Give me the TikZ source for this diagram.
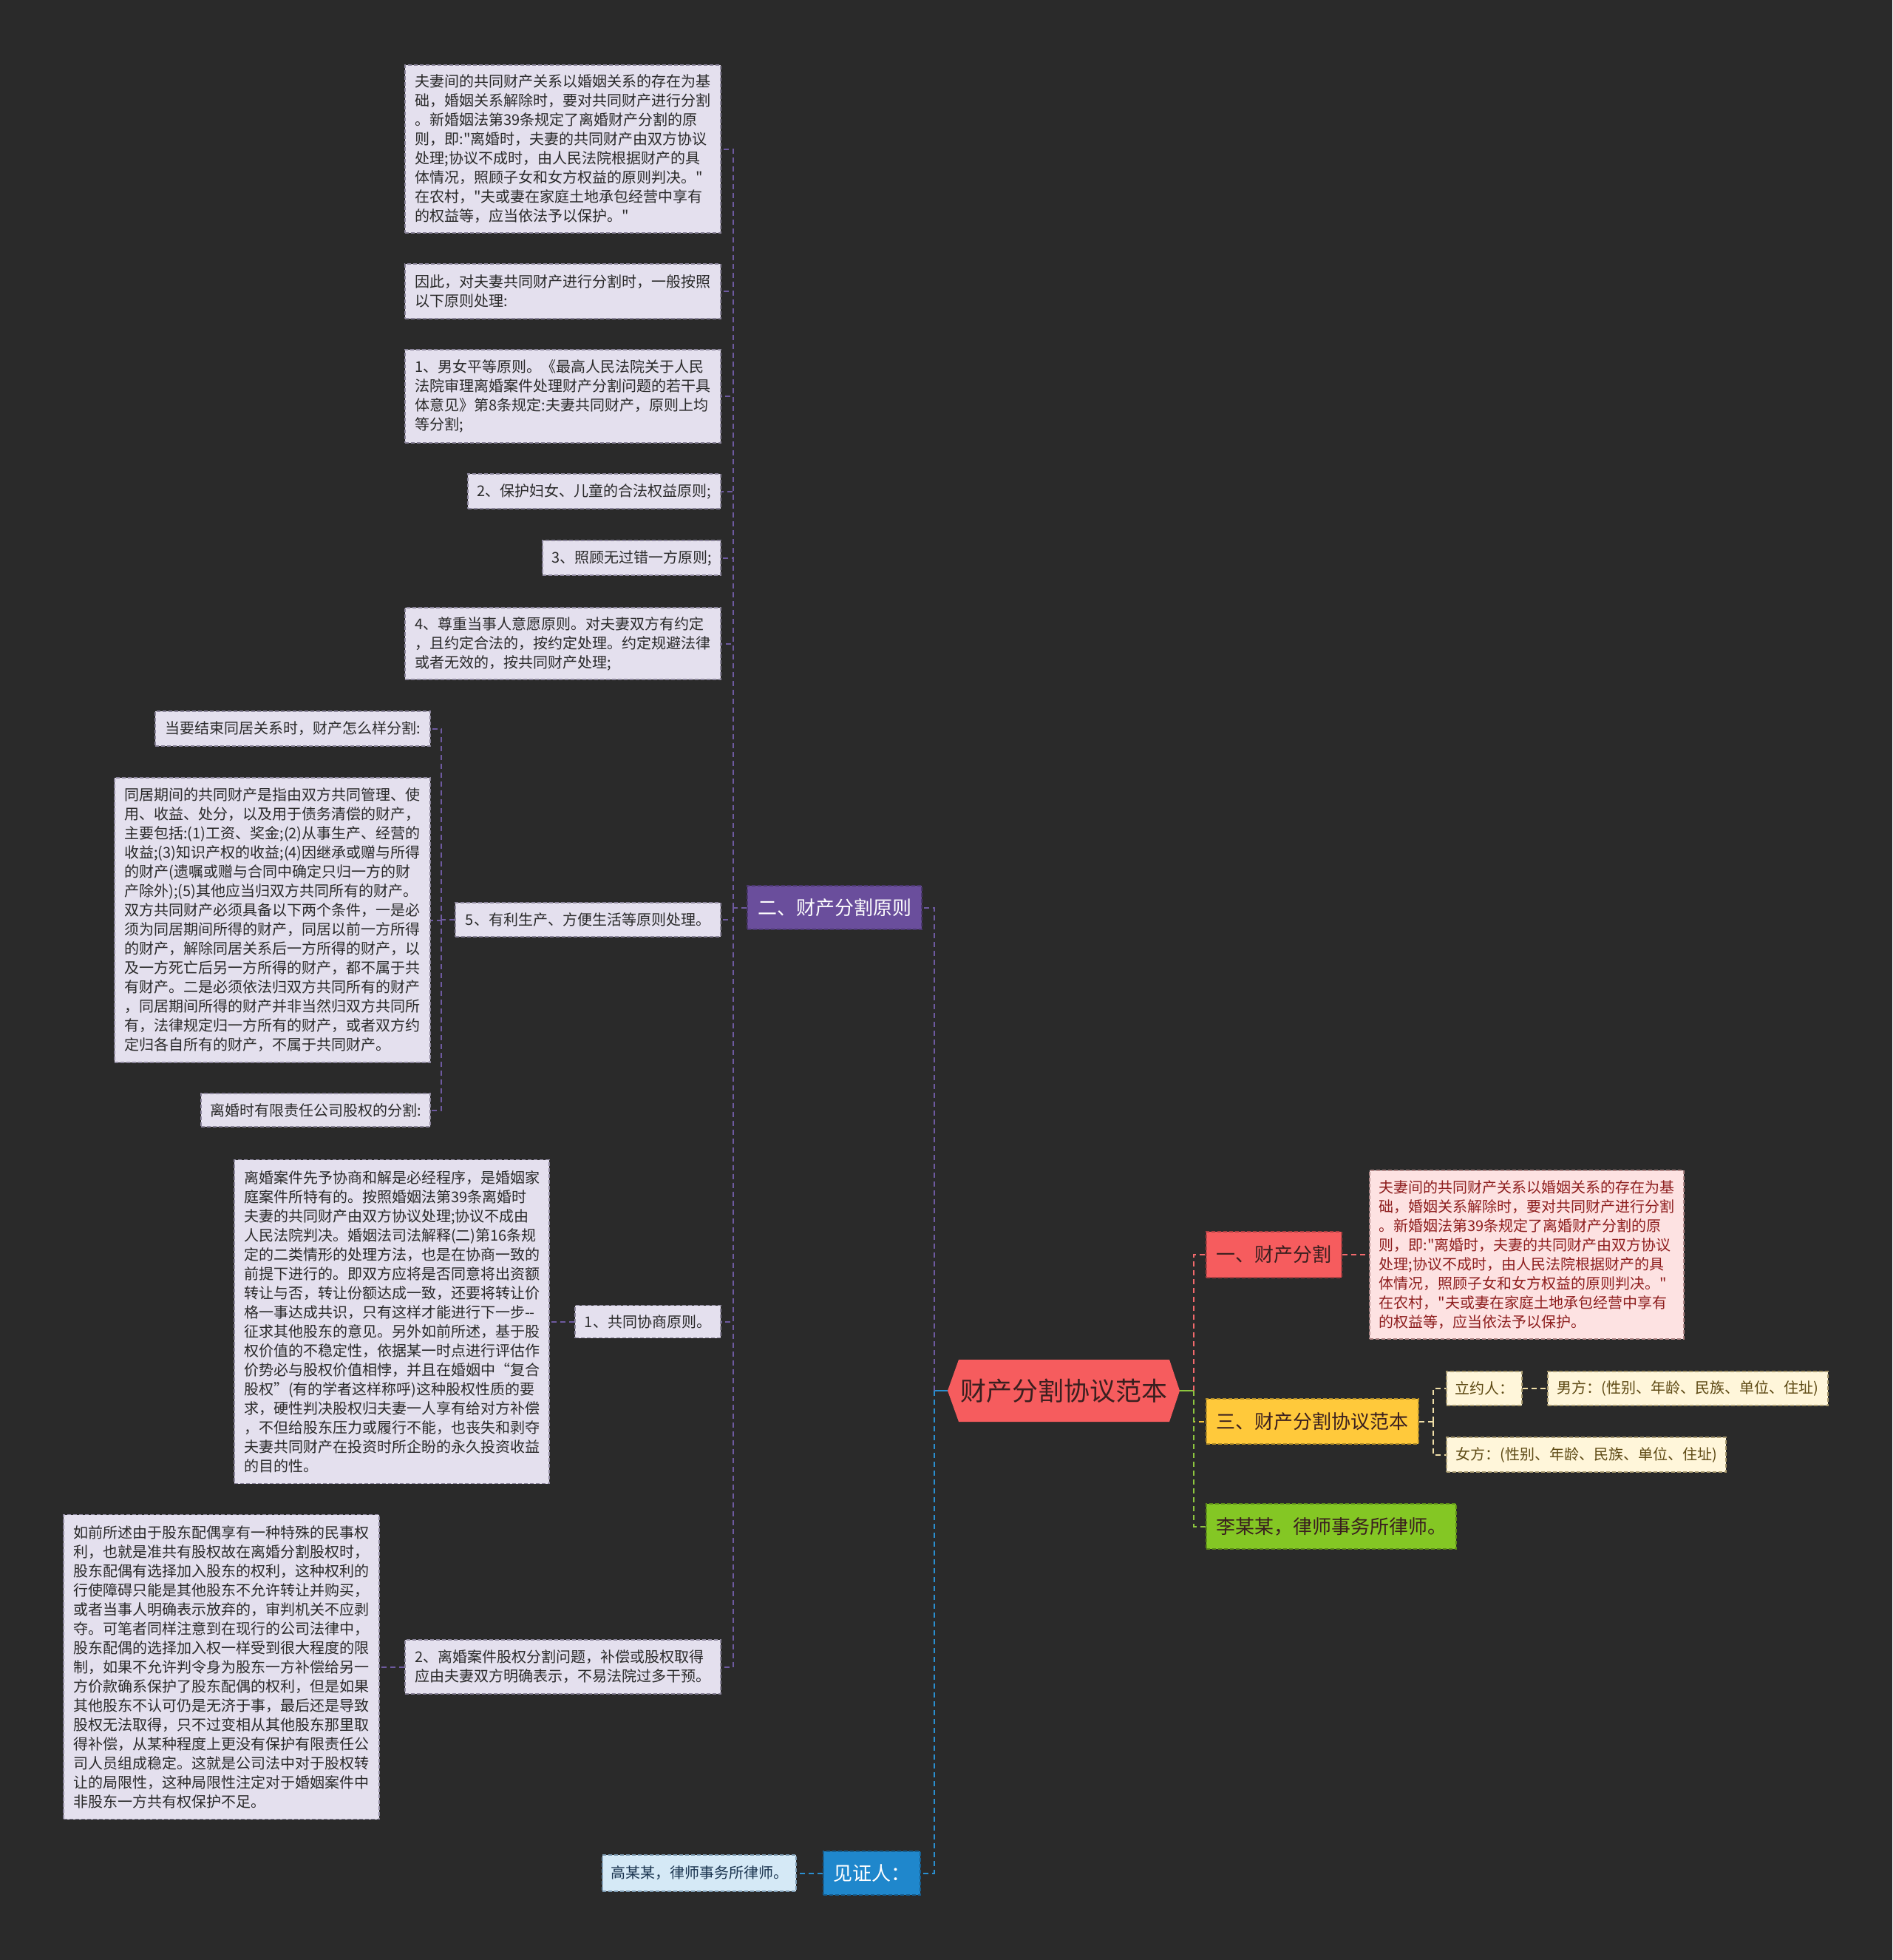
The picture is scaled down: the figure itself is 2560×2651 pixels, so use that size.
\documentclass[tikz,border=0pt]{standalone}
\usepackage{fontspec}
\setmainfont{Noto Sans CJK SC}[Ligatures=TeXOff]
\usetikzlibrary{calc}
\definecolor{bg}{HTML}{2A2A2A}
\definecolor{leaffill}{HTML}{E4E0EE}
\definecolor{leafborder}{HTML}{8C869C}
\definecolor{leaftext}{HTML}{2A2A2A}
\definecolor{pinkfill}{HTML}{FDE2E2}
\definecolor{pinktext}{HTML}{8E1E1E}
\definecolor{pinkborder}{HTML}{B08888}
\definecolor{creamfill}{HTML}{FFF6DA}
\definecolor{creamtext}{HTML}{5E4A14}
\definecolor{creamborder}{HTML}{A89A70}
\definecolor{lbluefill}{HTML}{D5E9F6}
\definecolor{lbluetext}{HTML}{1B3550}
\definecolor{lblueborder}{HTML}{7E9CB4}
\definecolor{purplen}{HTML}{6A4E9C}
\definecolor{bluen}{HTML}{1F87CC}
\definecolor{redn}{HTML}{F65C5E}
\definecolor{yellown}{HTML}{FFC93B}
\definecolor{greenn}{HTML}{84C724}
\definecolor{darktext}{HTML}{3A1F1F}
\definecolor{purplec}{HTML}{6E5AA0}
\definecolor{bluec}{HTML}{2A8FD0}
\definecolor{redc}{HTML}{F2696C}
\definecolor{yellowc}{HTML}{F5C53A}
\definecolor{greenc}{HTML}{8DC63F}
\definecolor{creamc}{HTML}{F0DFA8}
\tikzset{
  leaf/.style={rectangle, draw=leafborder, dash pattern=on 5pt off 3pt, line width=1.2pt,
    fill=leaffill, text=leaftext, font=\fontsize{20}{26}\selectfont, align=left, inner sep=0pt},
  pinkleaf/.style={leaf, draw=pinkborder, fill=pinkfill, text=pinktext},
  creamleaf/.style={leaf, draw=creamborder, fill=creamfill, text=creamtext},
  blueleaf/.style={leaf, draw=lblueborder, fill=lbluefill, text=lbluetext},
  mainbox/.style={rectangle, dash pattern=on 5pt off 3pt, line width=1.2pt, inner sep=0pt,
    font=\fontsize{26}{32}\selectfont, minimum height=60pt},
  conn/.style={line width=2pt, dash pattern=on 7pt off 5pt},
  stub/.style={line width=2pt}
}
\begin{document}
\begin{tikzpicture}[x=1pt,y=-1pt]
\fill[bg] (0,0) rectangle (2560,2651);

% ---------- left subtree leaves ----------
\node[leaf, minimum width=427pt, minimum height=227pt] (A) at (761.5,201.5) {夫妻间的共同财产关系以婚姻关系的存在为基\\础，婚姻关系解除时，要对共同财产进行分割\\。新婚姻法第39条规定了离婚财产分割的原\\则，即:"离婚时，夫妻的共同财产由双方协议\\处理;协议不成时，由人民法院根据财产的具\\体情况，照顾子女和女方权益的原则判决。"\\在农村，"夫或妻在家庭土地承包经营中享有\\的权益等，应当依法予以保护。"};
\node[leaf, minimum width=427pt, minimum height=74pt] (B) at (761.5,394) {因此，对夫妻共同财产进行分割时，一般按照\\以下原则处理:};
\node[leaf, minimum width=427pt, minimum height=126pt] (C) at (761.5,536) {1、男女平等原则。《最高人民法院关于人民\\法院审理离婚案件处理财产分割问题的若干具\\体意见》第8条规定:夫妻共同财产，原则上均\\等分割;};
\node[leaf, minimum width=342pt, minimum height=47pt] (D) at (804,664.5) {2、保护妇女、儿童的合法权益原则;};
\node[leaf, minimum width=241pt, minimum height=47pt] (E) at (854.5,754.5) {3、照顾无过错一方原则;};
\node[leaf, minimum width=427pt, minimum height=97pt] (F) at (761.5,870.5) {4、尊重当事人意愿原则。对夫妻双方有约定\\，且约定合法的，按约定处理。约定规避法律\\或者无效的，按共同财产处理;};
\node[leaf, minimum width=359pt, minimum height=46pt] (G) at (795.5,1244) {5、有利生产、方便生活等原则处理。};
\node[leaf, minimum width=372pt, minimum height=47pt] (H) at (396,985.5) {当要结束同居关系时，财产怎么样分割:};
\node[leaf, minimum width=427pt, minimum height=385pt] (I) at (368.5,1244.5) {同居期间的共同财产是指由双方共同管理、使\\用、收益、处分，以及用于债务清偿的财产，\\主要包括:(1)工资、奖金;(2)从事生产、经营的\\收益;(3)知识产权的收益;(4)因继承或赠与所得\\的财产(遗嘱或赠与合同中确定只归一方的财\\产除外);(5)其他应当归双方共同所有的财产。\\双方共同财产必须具备以下两个条件，一是必\\须为同居期间所得的财产，同居以前一方所得\\的财产，解除同居关系后一方所得的财产，以\\及一方死亡后另一方所得的财产，都不属于共\\有财产。二是必须依法归双方共同所有的财产\\，同居期间所得的财产并非当然归双方共同所\\有，法律规定归一方所有的财产，或者双方约\\定归各自所有的财产，不属于共同财产。};
\node[leaf, minimum width=310pt, minimum height=45pt] (J) at (427,1501.5) {离婚时有限责任公司股权的分割:};
\node[leaf, minimum width=426pt, minimum height=438pt] (K) at (530,1787.5) {离婚案件先予协商和解是必经程序，是婚姻家\\庭案件所特有的。按照婚姻法第39条离婚时\\夫妻的共同财产由双方协议处理;协议不成由\\人民法院判决。婚姻法司法解释(二)第16条规\\定的二类情形的处理方法，也是在协商一致的\\前提下进行的。即双方应将是否同意将出资额\\转让与否，转让份额达成一致，还要将转让价\\格一事达成共识，只有这样才能进行下一步-{}-\\征求其他股东的意见。另外如前所述，基于股\\权价值的不稳定性，依据某一时点进行评估作\\价势必与股权价值相悖，并且在婚姻中“复合\\股权”(有的学者这样称呼)这种股权性质的要\\求，硬性判决股权归夫妻一人享有给对方补偿\\，不但给股东压力或履行不能，也丧失和剥夺\\夫妻共同财产在投资时所企盼的永久投资收益\\的目的性。};
\node[leaf, minimum width=197pt, minimum height=44pt] (L) at (876.5,1787.5) {1、共同协商原则。};
\node[leaf, minimum width=427pt, minimum height=412pt] (M) at (299.5,2254.5) {如前所述由于股东配偶享有一种特殊的民事权\\利，也就是准共有股权故在离婚分割股权时，\\股东配偶有选择加入股东的权利，这种权利的\\行使障碍只能是其他股东不允许转让并购买，\\或者当事人明确表示放弃的，审判机关不应剥\\夺。可笔者同样注意到在现行的公司法律中，\\股东配偶的选择加入权一样受到很大程度的限\\制，如果不允许判令身为股东一方补偿给另一\\方价款确系保护了股东配偶的权利，但是如果\\其他股东不认可仍是无济于事，最后还是导致\\股权无法取得，只不过变相从其他股东那里取\\得补偿，从某种程度上更没有保护有限责任公\\司人员组成稳定。这就是公司法中对于股权转\\让的局限性，这种局限性注定对于婚姻案件中\\非股东一方共有权保护不足。};
\node[leaf, minimum width=427pt, minimum height=73pt] (N) at (761.5,2254.5) {2、离婚案件股权分割问题，补偿或股权取得\\应由夫妻双方明确表示，不易法院过多干预。};

% ---------- main branches ----------
\node[mainbox, draw=purplen!70!black, fill=purplen, text=white, minimum width=236pt, minimum height=59pt] (er) at (1129,1227.5) {二、财产分割原则};
\node[mainbox, draw=bluen!70!black, fill=bluen, text=white, minimum width=131pt, minimum height=59pt] (wit) at (1179.5,2533.5) {见证人：};
\node[blueleaf, minimum width=262pt, minimum height=49pt] (w2) at (946,2533.5) {高某某，律师事务所律师。};

% root hexagon
\fill[redn] (1282,1881) -- (1297,1839) -- (1582,1839) -- (1596,1881) -- (1582,1923) -- (1297,1923) -- cycle;
\node[rectangle, inner sep=0pt, minimum width=314pt, minimum height=84pt, text=darktext, font=\fontsize{35}{40}\selectfont] (root) at (1439,1881) {财产分割协议范本};

\node[mainbox, draw=redn!70!black, fill=redn, text=darktext, minimum width=183pt, minimum height=62pt] (one) at (1723.5,1697) {一、财产分割};
\node[pinkleaf, minimum width=425pt, minimum height=228pt] (P) at (2065.5,1697) {夫妻间的共同财产关系以婚姻关系的存在为基\\础，婚姻关系解除时，要对共同财产进行分割\\。新婚姻法第39条规定了离婚财产分割的原\\则，即:"离婚时，夫妻的共同财产由双方协议\\处理;协议不成时，由人民法院根据财产的具\\体情况，照顾子女和女方权益的原则判决。"\\在农村，"夫或妻在家庭土地承包经营中享有\\的权益等，应当依法予以保护。};
\node[mainbox, draw=yellown!70!black, fill=yellown, text=darktext, minimum width=287pt, minimum height=61pt] (three) at (1775.5,1922.5) {三、财产分割协议范本};
\node[mainbox, draw=greenn!70!black, fill=greenn, text=darktext, minimum width=338pt, minimum height=61pt] (li) at (1801,2064.5) {李某某，律师事务所律师。};
\node[creamleaf, minimum width=102pt, minimum height=46pt] (lyr) at (2008,1878) {立约人：};
\node[creamleaf, minimum width=379pt, minimum height=46pt] (nan) at (2283.5,1878) {男方：(性别、年龄、民族、单位、住址)};
\node[creamleaf, minimum width=378pt, minimum height=47pt] (nv) at (2146,1967.5) {女方：(性别、年龄、民族、单位、住址)};

% ---------- connectors ----------
\draw[stub, bluec] (root.west) -- ++(-18,0) coordinate (rl);
\draw[conn, purplec] (rl) |- (er.east);
\draw[conn, bluec] (rl) |- (wit.east);
\draw[conn, bluec] (wit.west) -- (w2.east);

\draw[conn, purplec] (er.west) -- ++(-18,0) coordinate (pt);
\foreach \n in {A,B,C,D,E,F,G,L,N} \draw[conn, purplec] (pt) |- (\n.east);
\draw[conn, purplec] (G.west) -- ++(-18,0) coordinate (gt);
\foreach \n in {H,I,J} \draw[conn, purplec] (gt) |- (\n.east);
\draw[conn, purplec] (L.west) -- (K.east);
\draw[conn, purplec] (N.west) -- (M.east);

\draw[stub, greenc] (root.east) -- ++(19,0) coordinate (rr);
\draw[conn, redc] (rr) |- (one.west);
\draw[conn, yellowc] (rr) |- (three.west);
\draw[conn, greenc] (rr) |- (li.west);
\draw[conn, redc] (one.east) -- (P.west);
\draw[conn, creamc] (three.east) -- ++(19,0) coordinate (tt);
\draw[conn, creamc] (tt) |- (lyr.west);
\draw[conn, creamc] (tt) |- (nv.west);
\draw[conn, creamc] (lyr.east) -- (nan.west);
\end{tikzpicture}
\end{document}
